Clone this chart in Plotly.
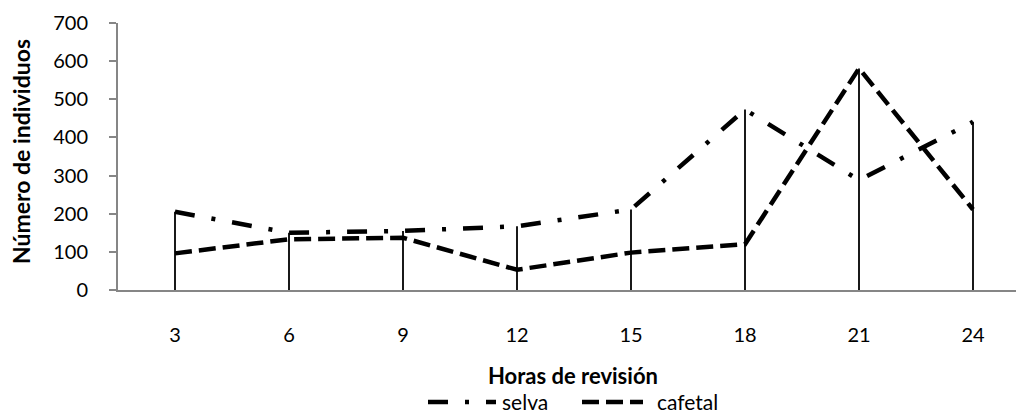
import plotly.graph_objects as go

# Observations per revision hour
horas = [3, 6, 9, 12, 15, 18, 21, 24]
selva = [205, 150, 155, 167, 211, 473, 288, 441]
cafetal = [96, 133, 137, 53, 98, 120, 581, 211]
y_ticks = [0, 100, 200, 300, 400, 500, 600, 700]

FONT = "Lato"
AXIS_GRAY = "#868686"
CLEAR = "rgba(0,0,0,0)"
L, T, W, H = 118, 23, 1016, 414
B = 124
PW, PH = W - L, H - T - B


def px_x(px):
    return (px - L) / PW


def px_y(py):
    return (H - B - py) / PH


fig = go.Figure()

fig.add_trace(go.Scatter(
    x=horas, y=selva, mode="lines", name="selva",
    line=dict(color="black", width=4.5, dash="20px,17px,4px,17px"),
))
fig.add_trace(go.Scatter(
    x=horas, y=cafetal, mode="lines", name="cafetal",
    line=dict(color="black", width=4.5, dash="17px,7px"),
))

# drop lines from the higher series down to the axis
dx, dy = [], []
for h, a, b in zip(horas, selva, cafetal):
    dx += [h, h, None]
    dy += [0, max(a, b), None]
fig.add_trace(go.Scatter(
    x=dx, y=dy, mode="lines", line=dict(color="black", width=1.8),
    hoverinfo="skip", yaxis="y2",
))

step = horas[1] - horas[0]
px_per_unit = 114 / step
x_lo = horas[0] - 57 / px_per_unit
x_hi = x_lo + PW / px_per_unit

fig.update_layout(
    width=W, height=H,
    margin=dict(l=L, r=0, t=T, b=B, pad=0),
    paper_bgcolor="white", plot_bgcolor="white",
    showlegend=False,
    font=dict(family=FONT, size=20, color="black"),
    xaxis=dict(
        range=[x_lo, x_hi], tickvals=horas, ticktext=[str(h) for h in horas],
        showgrid=False, zeroline=False, showline=True,
        linecolor=AXIS_GRAY, linewidth=2,
        ticks="outside", ticklen=26, tickcolor=CLEAR,
        tickfont=dict(size=20),
    ),
    # labelled axis (transparent ticks push the labels away from the line)
    yaxis=dict(
        range=[0, 700], tickvals=y_ticks, showgrid=False, zeroline=False,
        showline=False, ticks="outside", ticklen=25, tickcolor=CLEAR,
        tickfont=dict(size=20),
    ),
    # visible axis line with short gray ticks
    yaxis2=dict(
        range=[0, 700], tickvals=y_ticks, overlaying="y", side="left",
        showgrid=False, zeroline=False, showticklabels=False,
        showline=True, linecolor=AXIS_GRAY, linewidth=1.5,
        ticks="outside", ticklen=7, tickcolor=AXIS_GRAY, tickwidth=1.5,
    ),
)

annotations = [
    dict(text="<b>Horas de revisión</b>", x=px_x(573), y=px_y(375),
         xref="paper", yref="paper", showarrow=False,
         xanchor="center", yanchor="middle", font=dict(size=22)),
    dict(text="<b>Número de individuos</b>", x=px_x(21), y=px_y(152),
         xref="paper", yref="paper", showarrow=False, textangle=-90,
         xanchor="center", yanchor="middle", font=dict(size=23)),
    dict(text="selva", x=px_x(500), y=px_y(401), xref="paper", yref="paper",
         showarrow=False, xanchor="left", yanchor="middle", font=dict(size=21)),
    dict(text="cafetal", x=px_x(655), y=px_y(401), xref="paper", yref="paper",
         showarrow=False, xanchor="left", yanchor="middle", font=dict(size=21)),
]
shapes = [
    dict(type="line", xref="paper", yref="paper",
         x0=px_x(428), x1=px_x(496), y0=px_y(402), y1=px_y(402),
         line=dict(color="black", width=4.5, dash="20px,17px,4px,17px")),
    dict(type="line", xref="paper", yref="paper",
         x0=px_x(582), x1=px_x(643), y0=px_y(402), y1=px_y(402),
         line=dict(color="black", width=4.5, dash="17px,7px")),
]
fig.update_layout(annotations=annotations, shapes=shapes)

fig.write_html("out.html")
